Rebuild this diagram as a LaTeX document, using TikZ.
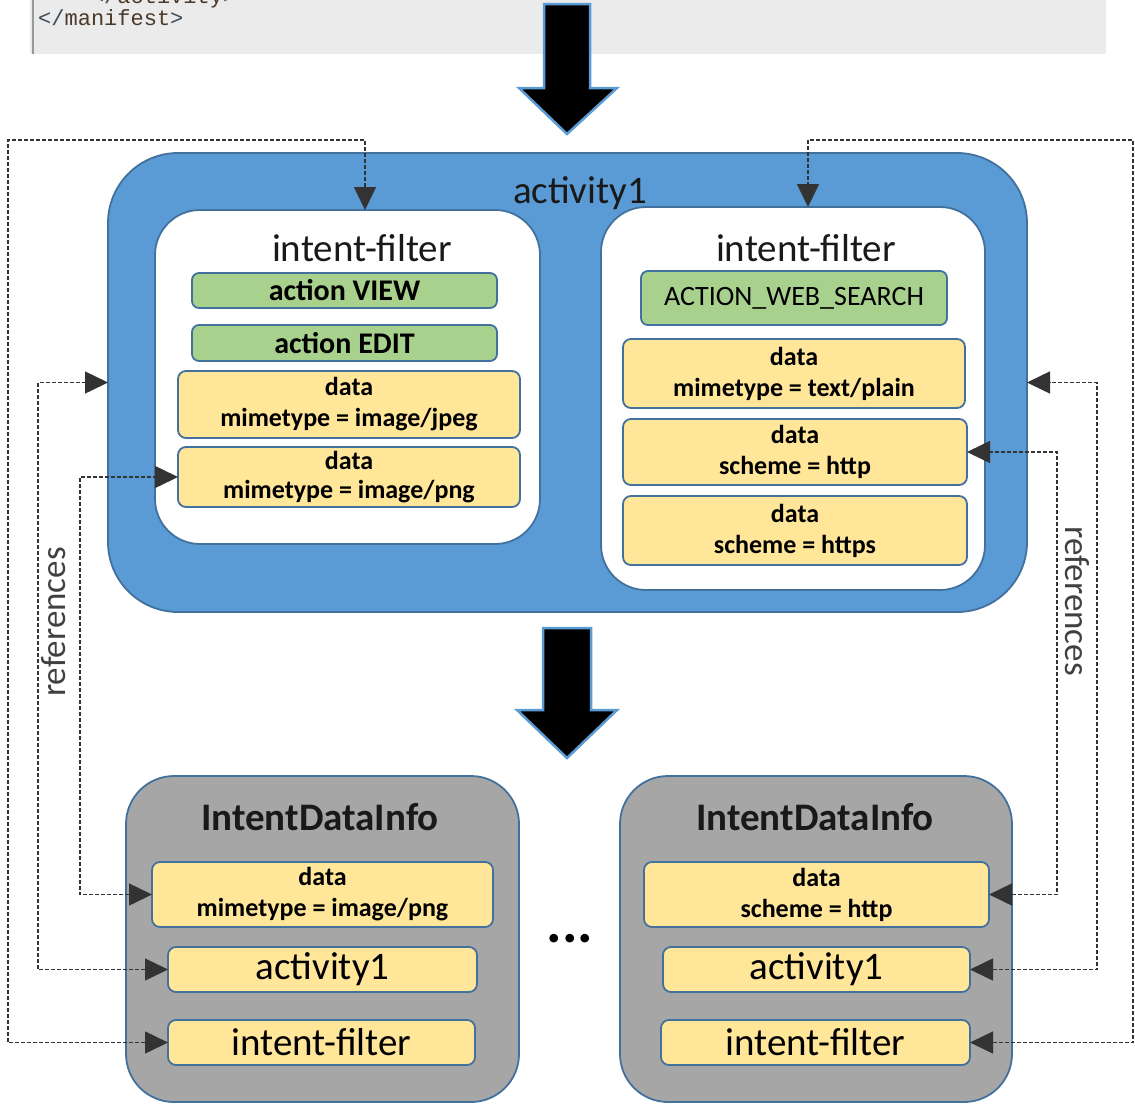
\documentclass[tikz,border=0pt]{standalone}
\usepackage{fontspec}
\setmainfont{Carlito}
\newfontfamily\codefont{Liberation Mono}
\usetikzlibrary{arrows.meta,calc}
\definecolor{actblue}{HTML}{5B9BD5}
\definecolor{edgeblue}{HTML}{41719C}
\definecolor{grn}{HTML}{A9D18E}
\definecolor{ylw}{HTML}{FFE699}
\definecolor{gry}{HTML}{A6A6A6}
\definecolor{codebg}{HTML}{EBEBEB}
\definecolor{codetag}{HTML}{3E4A5A}
\definecolor{codename}{HTML}{4A3A2A}
\newcommand\fbig{\fontsize{39}{46}\selectfont}
\newcommand\fref{\fontsize{35}{42}\selectfont}
\newcommand\fact{\bfseries\fontsize{30}{36}\selectfont}
\newcommand\fweb{\fontsize{28}{34}\selectfont}
\newcommand\fdata{\bfseries\fontsize{26}{31}\selectfont}
\begin{document}
\begin{tikzpicture}[x=1pt,y=-1pt,
  box/.style={draw=edgeblue, line width=1.8pt, inner sep=0pt, outer sep=0pt},
  greenbox/.style={box, fill=grn, rounded corners=7pt, font=\fact},
  databox/.style={box, fill=ylw, rounded corners=8pt, font=\fdata, align=center},
  itembox/.style={box, fill=ylw, rounded corners=8pt, font=\fbig},
  whitebox/.style={box, fill=white, rounded corners=45pt},
  graybox/.style={box, fill=gry, rounded corners=48pt},
  ref/.style={draw=black!80, line width=1.5pt, dash pattern=on 4pt off 2pt,
    arrows={Triangle[length=23pt,width=22pt]-Triangle[length=23pt,width=22pt]}},
  bigarrow/.style={fill=black, draw=actblue, line width=2.5pt, line join=miter}
]
\useasboundingbox (0,0) rectangle (1135,1109);

% code box
\fill[codebg] (30,0) rectangle (1106,54);
\draw[black!40, line width=2pt] (33,0) -- (33,54);
\begin{scope}
\clip (30,0) rectangle (1106,54);
\node[anchor=base west, inner sep=0pt, font=\codefont\fontsize{22}{26}\selectfont] (codeA) at (38,3) {\textcolor{codetag}{\ \ \ \ </}\textcolor{codename}{activity}\textcolor{codetag}{>}};
\node[anchor=base west, inner sep=0pt, font=\codefont\fontsize{22}{26}\selectfont] (codeB) at (38,25) {\textcolor{codetag}{</}\textcolor{codename}{manifest}\textcolor{codetag}{>}};
\end{scope}

% big arrows
\draw[bigarrow] (544,4) -- (590,4) -- (590,88) -- (617,88) -- (567,134) -- (519,88) -- (544,88) -- cycle;
\draw[bigarrow] (543,628) -- (591,628) -- (591,710) -- (617,710) -- (567,758) -- (517,710) -- (543,710) -- cycle;

% activity
\node[box, fill=actblue, rounded corners=70pt, minimum width=919pt, minimum height=459pt] (act) at (567.5,382.5) {};
\node[font=\fbig, text=black!90, inner sep=0pt] (actlbl) at (580,193) {activity1};

% left intent filter
\node[whitebox, minimum width=385pt, minimum height=334pt] (lif) at (347.5,377) {};
\node[font=\fbig, text=black!90, inner sep=0pt] (liflbl) at (362,248) {intent-filter};
\node[greenbox, minimum width=305pt, minimum height=35pt] (view) at (344.5,290.5) {action VIEW};
\node[greenbox, minimum width=305pt, minimum height=36pt] (edit) at (344.5,343) {action EDIT};
\node[databox, minimum width=342pt, minimum height=67pt] (djpeg) at (349,404.5) {data\\mimetype = image/jpeg};
\node[databox, minimum width=342pt, minimum height=60pt, font=\bfseries\fontsize{26}{29}\selectfont] (dpng) at (349,477) {data\\mimetype = image/png};

% right intent filter
\node[whitebox, minimum width=384pt, minimum height=383pt] (rif) at (793,398.5) {};
\node[font=\fbig, text=black!90, inner sep=0pt] (riflbl) at (806,248) {intent-filter};
\node[greenbox, minimum width=306pt, minimum height=54pt, font=\fweb] (web) at (794,298) {ACTION\_WEB\_SEARCH};
\node[databox, minimum width=342pt, minimum height=69pt] (dtext) at (794,373.5) {data\\mimetype = text/plain};
\node[databox, minimum width=344pt, minimum height=66pt] (dhttp) at (795,452) {data\\scheme = http};
\node[databox, minimum width=344pt, minimum height=69pt] (dhttps) at (795,530.5) {data\\scheme = https};

% bottom left
\node[graybox, minimum width=393pt, minimum height=326pt] (lg) at (322.5,939) {};
\node[font=\bfseries\fbig, text=black!90, inner sep=0pt] (lglbl) at (320,817) {IntentDataInfo};
\node[databox, minimum width=341pt, minimum height=65pt] (lbd) at (322.5,894.5) {data\\mimetype = image/png};
\node[itembox, minimum width=309pt, minimum height=45pt] (lba) at (322.5,969.5) {activity1};
\node[itembox, minimum width=307pt, minimum height=45pt] (lbi) at (321.5,1042.5) {intent-filter};

% bottom right
\node[graybox, minimum width=392pt, minimum height=326pt] (rg) at (816,939) {};
\node[font=\bfseries\fbig, text=black!90, inner sep=0pt] (rglbl) at (815,817) {IntentDataInfo};
\node[databox, minimum width=345pt, minimum height=65pt] (rbd) at (816.5,894.5) {data\\scheme = http};
\node[itembox, minimum width=307pt, minimum height=45pt] (rba) at (816.5,969.5) {activity1};
\node[itembox, minimum width=309pt, minimum height=45pt] (rbi) at (815.5,1042.5) {intent-filter};

% dots
\node[font=\bfseries\fontsize{58}{60}\selectfont, anchor=base, inner sep=0pt] (dots) at (570,942) {...};

% references left
\draw[ref] (lbi.west) -| (8,140) -| ([xshift=17.5pt]lif.north);
\draw[ref] (lba.west) -| ([xshift=-70pt]act.west) -- (act.west);
\draw[ref] (lbd.west) -| ([xshift=-98pt]dpng.west) -- (dpng.west);
% references right
\draw[ref] (rbi.east) -| (1133,140) -| ([xshift=15pt]rif.north);
\draw[ref] (rba.east) -| ([xshift=70pt]act.east) -- (act.east);
\draw[ref] (rbd.east) -| ([xshift=90pt]dhttp.east) -- (dhttp.east);

\node[font=\fref, text=black!75, rotate=90, inner sep=0pt] (refL) at (54,622) {references};
\node[font=\fref, text=black!75, rotate=-90, inner sep=0pt] (refR) at (1077,601) {references};
\end{tikzpicture}
\end{document}
